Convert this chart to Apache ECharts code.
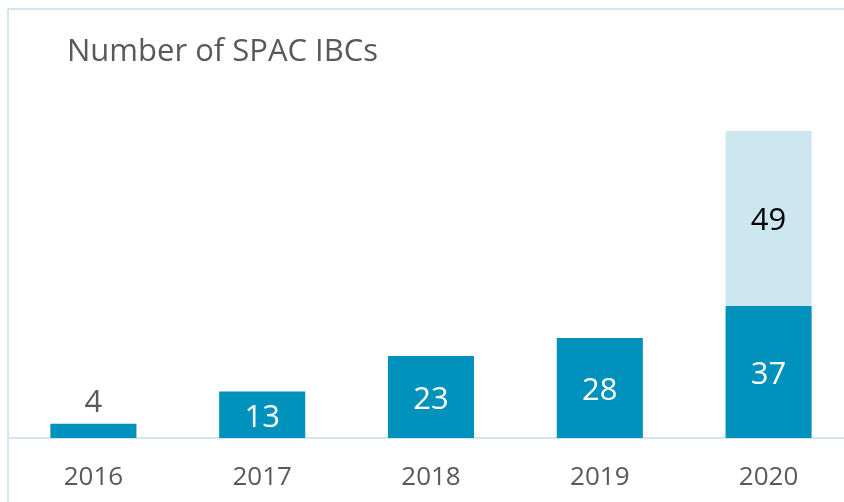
<!DOCTYPE html>
<html>
<head>
<meta charset="utf-8">
<script src="https://cdn.jsdelivr.net/npm/echarts@6/dist/echarts.min.js"></script>
<style>
  html, body { margin: 0; padding: 0; background: #fff; }
  #chart { width: 844px; height: 502px; }
</style>
</head>
<body>
<div id="chart"></div>
<script>
const years = ['2016', '2017', '2018', '2019', '2020'];
const baseCounts = [4, 13, 23, 28, 37];
const extraCounts = [null, null, null, null, 49];

const darkBlue = '#0091bd';
const lightBlue = '#cce7f0';
const frameColor = '#d3e6ef';
const textGray = '#595959';
const font = '"Open Sans", sans-serif';

const chart = echarts.init(document.getElementById('chart'));

// first bar is too short for an inside label, so it goes on top in grey
const baseData = baseCounts.map((v, i) =>
  i === 0
    ? { value: v, label: { position: 'top', color: textGray, distance: 4, offset: [0, -1] } }
    : v
);

const options = {
  animation: false,
  title: {
    text: 'Number of SPAC IBCs',
    left: 62,
    top: 32,
    textStyle: {
      fontFamily: font,
      fontSize: 31,
      fontWeight: 'normal',
      color: textGray,
    },
  },
  grid: {
    left: 9,
    width: 844,
    top: 81,
    bottom: 64,
    outerBoundsMode: 'none',
  },
  xAxis: {
    type: 'category',
    data: years,
    axisLine: {
      lineStyle: { color: frameColor, width: 2 },
    },
    axisTick: { show: false },
    axisLabel: {
      fontFamily: font,
      fontSize: 26,
      color: textGray,
      margin: 27,
    },
  },
  yAxis: {
    type: 'value',
    min: 0,
    max: 100,
    show: false,
  },
  series: [
    {
      type: 'bar',
      stack: 'ibc',
      data: baseData,
      barWidth: '51%',
      itemStyle: { color: darkBlue },
      label: {
        show: true,
        position: 'inside',
        offset: [0, 3],
        color: '#fff',
        fontFamily: font,
        fontSize: 31,
      },
    },
    {
      type: 'bar',
      stack: 'ibc',
      data: extraCounts,
      barWidth: '51%',
      itemStyle: { color: lightBlue },
      label: {
        show: true,
        position: 'inside',
        offset: [0, 3],
        color: '#000',
        fontFamily: font,
        fontSize: 31,
      },
    },
  ],
  graphic: [
    {
      type: 'line',
      shape: { x1: 8, y1: 9, x2: 844, y2: 9 },
      style: { stroke: frameColor, lineWidth: 2 },
    },
    {
      type: 'line',
      shape: { x1: 8, y1: 9, x2: 8, y2: 502 },
      style: { stroke: frameColor, lineWidth: 2 },
    },
  ],
};

chart.setOption(options);
</script>
</body>
</html>
